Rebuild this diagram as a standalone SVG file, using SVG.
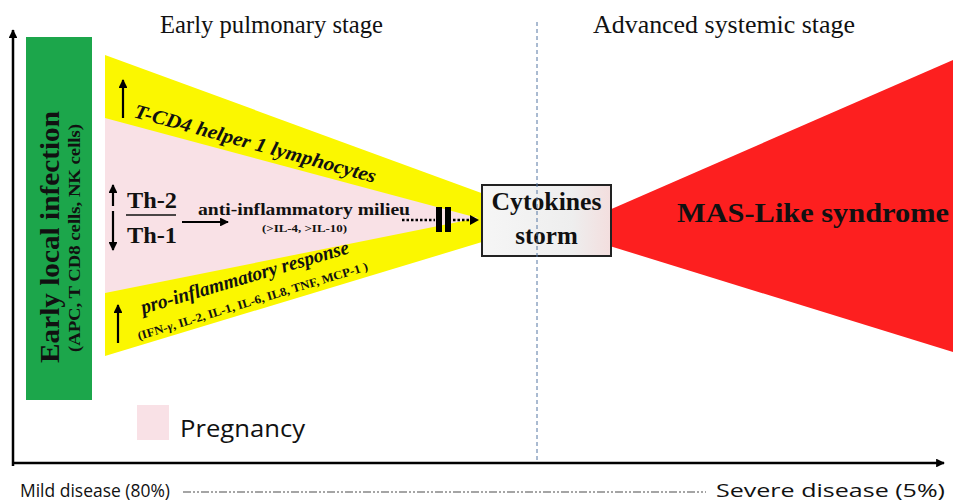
<svg xmlns="http://www.w3.org/2000/svg" width="953" height="503" viewBox="0 0 953 503">
<style>
.serif{font-family:"Liberation Serif","Times New Roman",serif;fill:#111}
.b{font-weight:bold}
.i{font-style:italic}
.sans{font-family:"Open Sans","Noto Sans","Liberation Sans",sans-serif;fill:#111}
.ax{stroke:#000;stroke-width:2.5;fill:none}
.arr{stroke:#000;stroke-width:2.2;fill:none}
</style>
<defs>
<marker id="ah" viewBox="0 0 10 10" refX="9" refY="5" markerWidth="4" markerHeight="4" orient="auto" markerUnits="strokeWidth">
<path d="M0,0 L10,5 L0,10 Z" fill="#000"/>
</marker>
<marker id="ahs" viewBox="0 0 10 10" refX="9" refY="5" markerWidth="3.5" markerHeight="3.5" orient="auto" markerUnits="strokeWidth">
<path d="M0,0 L10,5 L0,10 Z" fill="#000"/>
</marker>
<linearGradient id="boxg" x1="0" y1="0" x2="1" y2="0">
<stop offset="0" stop-color="#f6f6f6"/>
<stop offset="0.7" stop-color="#eeeeee"/>
<stop offset="1" stop-color="#f3dede"/>
</linearGradient>
</defs>

<!-- stage titles -->
<g id="stage-early"><text class="serif" x="160" y="33" font-size="25" textLength="223" lengthAdjust="spacingAndGlyphs">Early pulmonary stage</text></g>
<g id="stage-advanced"><text class="serif" x="593" y="33" font-size="25" textLength="262" lengthAdjust="spacingAndGlyphs">Advanced systemic stage</text></g>

<!-- wedges -->
<g id="yellow-wedge"><polygon points="105,55 555,220 105,356" fill="#fbf700"/></g>
<g id="pink-wedge"><polygon points="105,118 478,218 105,293" fill="#f9e1e6"/></g>
<g id="red-wedge"><polygon points="600,214 953,60 953,352 600,243" fill="#fd1f1f"/></g>

<!-- early local infection -->
<g id="early-infection">
<rect x="26" y="37" width="66" height="363" fill="#1ca64b"/>
<text class="serif b" transform="translate(59,237) rotate(-90)" text-anchor="middle" font-size="28" textLength="252" lengthAdjust="spacingAndGlyphs" fill="#0d2a15">Early local infection</text>
<text class="serif b" transform="translate(80,238) rotate(-90)" text-anchor="middle" font-size="16" textLength="228" lengthAdjust="spacingAndGlyphs" fill="#0d2a15">(APC, T CD8 cells, NK cells)</text>
</g>

<!-- T-CD4 -->
<g id="tcd4">
<line class="arr" x1="123" y1="118" x2="123" y2="80" marker-end="url(#ah)"/>
<text class="serif b i" transform="translate(133,117) rotate(15.3)" font-size="20" textLength="250" lengthAdjust="spacingAndGlyphs">T-CD4 helper 1 lymphocytes</text>
</g>

<!-- Th2/Th1 -->
<g id="th-ratio">
<line class="arr" x1="113" y1="206" x2="113" y2="185" stroke-width="2" marker-end="url(#ah)"/>
<line class="arr" x1="113" y1="211" x2="113" y2="250" stroke-width="2" marker-end="url(#ah)"/>
<text class="serif b" x="127" y="208" font-size="24" textLength="50" lengthAdjust="spacingAndGlyphs">Th-2</text>
<line x1="126" y1="215" x2="176" y2="215" stroke="#111" stroke-width="1.5"/>
<text class="serif b" x="127" y="243" font-size="24" textLength="50" lengthAdjust="spacingAndGlyphs">Th-1</text>
</g>

<g id="anti-inflammatory">
<text class="serif b" x="198" y="215" font-size="17" textLength="212" lengthAdjust="spacingAndGlyphs">anti-inflammatory milieu</text>
<text class="serif b" x="262" y="232" font-size="10" textLength="85" lengthAdjust="spacingAndGlyphs">(&gt;IL-4, &gt;IL-10)</text>
</g>

<!-- pro-inflammatory -->
<g id="pro-inflammatory">
<line class="arr" x1="118" y1="343" x2="118" y2="305" marker-end="url(#ah)"/>
<text class="serif b i" transform="translate(143,314) rotate(-16.4)" font-size="20" textLength="216" lengthAdjust="spacingAndGlyphs">pro-inflammatory response</text>
<text class="serif b" transform="translate(139,340) rotate(-17)" font-size="12" textLength="240" lengthAdjust="spacingAndGlyphs">(IFN-<tspan font-style="italic">γ</tspan>, IL-2, IL-1, IL-6, IL8, TNF, MCP-1 )</text>
</g>

<!-- cytokines storm -->
<g id="cytokines-storm">
<rect x="482" y="185" width="129" height="71" fill="url(#boxg)" stroke="#222" stroke-width="2"/>
<text class="serif b" x="546.5" y="210" text-anchor="middle" font-size="25" textLength="110" lengthAdjust="spacingAndGlyphs">Cytokines</text>
<text class="serif b" x="546.5" y="244" text-anchor="middle" font-size="25">storm</text>
</g>

<g id="mas-like"><text class="serif b" x="677" y="222" font-size="28" textLength="272" lengthAdjust="spacingAndGlyphs" fill="#2a0505">MAS-Like syndrome</text></g>

<!-- legend -->
<g id="legend-pregnancy">
<rect x="137" y="405" width="32" height="35" fill="#f9e1e6"/>
<text class="sans" x="180" y="437" font-size="24" textLength="125" lengthAdjust="spacingAndGlyphs">Pregnancy</text>
</g>

<!-- severity labels -->
<g id="severity">
<text class="sans" x="20" y="497" font-size="18" textLength="150" lengthAdjust="spacingAndGlyphs">Mild disease (80%)</text>
<text class="sans" x="716" y="497" font-size="18" textLength="229" lengthAdjust="spacingAndGlyphs">Severe disease (5%)</text>
</g>

<!-- connectors -->
<g id="connectors">
<line class="ax" x1="13" y1="466" x2="13" y2="30" marker-end="url(#ahs)"/>
<line class="ax" x1="12" y1="463" x2="944" y2="463" marker-end="url(#ahs)"/>
<line x1="537" y1="22" x2="537" y2="462" stroke="#5577a3" stroke-width="1" stroke-dasharray="4 3"/>
<line x1="183" y1="492" x2="706" y2="492" stroke="#888" stroke-width="1.5" stroke-dasharray="8 2 2 2 2 2"/>
<line class="arr" x1="182" y1="222" x2="228" y2="222" stroke-width="1.8" marker-end="url(#ah)"/>
<line x1="402" y1="220" x2="435" y2="220" stroke="#000" stroke-width="2.5" stroke-dasharray="2.5 2"/>
<rect x="436" y="207" width="6" height="25" fill="#000"/>
<rect x="445" y="207" width="6" height="25" fill="#000"/>
<line x1="453" y1="220" x2="471" y2="220" stroke="#000" stroke-width="2.5" stroke-dasharray="2.5 2"/>
<path d="M470,215 L479,220 L470,225 Z" fill="#000"/>
</g>
</svg>
